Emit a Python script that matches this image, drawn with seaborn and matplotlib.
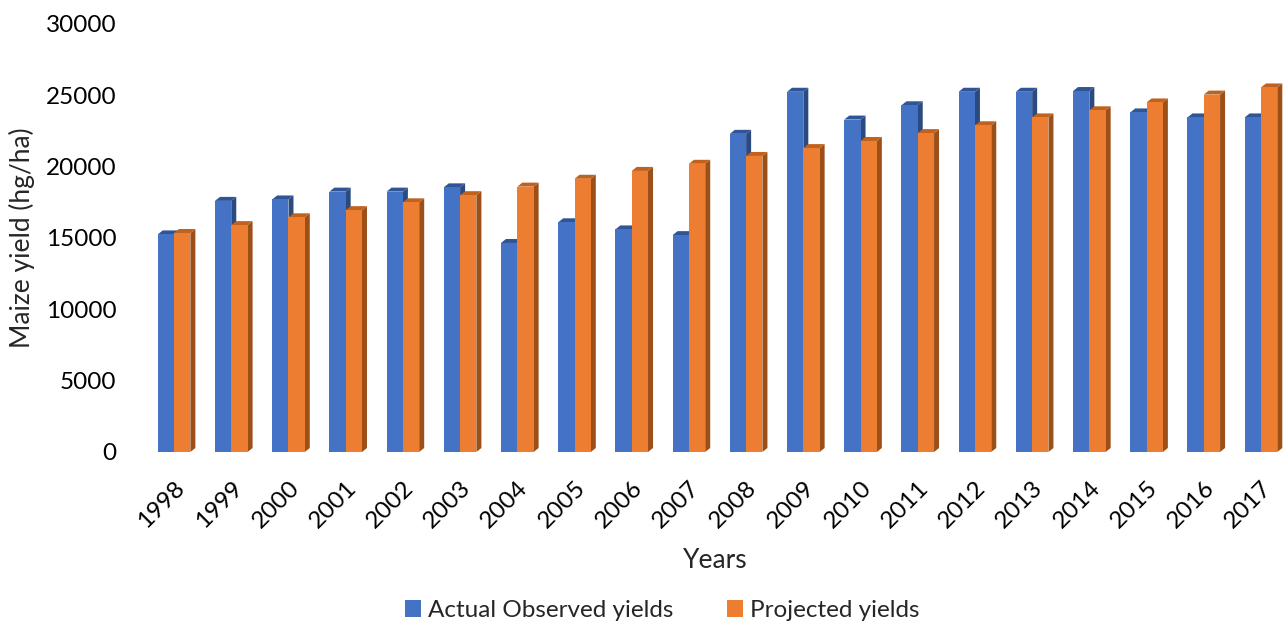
import numpy as np
import pandas as pd
import matplotlib
matplotlib.use("Agg")
import matplotlib.pyplot as plt
from matplotlib.patches import Polygon, Patch
import seaborn as sns

years = [str(y) for y in range(1998, 2018)]
actual = [15250, 17600, 17700, 18250, 18250, 18550, 14650, 16100, 15600, 15200,
          22300, 25250, 23300, 24300, 25250, 25250, 25300, 23800, 23450, 23450]
projected = [15350, 15900, 16450, 16950, 17500, 18000, 18600, 19150, 19700, 20200,
             20750, 21300, 21800, 22350, 22900, 23450, 23950, 24500, 25050, 25550]
series = ["Actual Observed yields", "Projected yields"]

front = {series[0]: "#4472C4", series[1]: "#ED7D31"}
side = {series[0]: "#2B4A80", series[1]: "#9C4F17"}
top = {series[0]: "#2F5597", series[1]: "#C0621D"}

df = pd.DataFrame({
    "Year": years * 2,
    "Yield": actual + projected,
    "Series": [series[0]] * len(years) + [series[1]] * len(years),
})

sns.set_theme(style="white")
plt.rcParams["font.family"] = ["Lato", "DejaVu Sans"]

fig = plt.figure(figsize=(12.85, 6.23), dpi=100)
ax = fig.add_axes([0.1132, 0.2745, 0.8868, 0.687])

sns.barplot(data=df, x="Year", y="Yield", hue="Series", order=years,
            hue_order=series, palette=front, width=0.57, ax=ax,
            legend=False, saturation=1, linewidth=0)

ax.set_xlim(-0.5, 19.42)
ax.set_ylim(0, 30000)

# extrude each bar into a pseudo-3D column (side and top faces)
fig.canvas.draw()
ppx = ax.transData.transform((1, 0))[0] - ax.transData.transform((0, 0))[0]
ppy = ax.transData.transform((0, 1000))[1] - ax.transData.transform((0, 0))[1]
dx = 5.0 / ppx
dy = 4.0 * 1000 / ppy

bars = list(ax.patches)
n = len(years)
for s_idx, name in enumerate(series):
    for p in bars[s_idx * n:(s_idx + 1) * n]:
        x0 = p.get_x()
        x1 = x0 + p.get_width()
        h = p.get_height()
        sp = Polygon([(x1, 0), (x1 + dx, dy), (x1 + dx, h + dy), (x1, h)],
                     closed=True, facecolor=side[name], edgecolor="none",
                     zorder=p.get_zorder() + s_idx * 0.1)
        tp = Polygon([(x0, h), (x0 + dx, h + dy), (x1 + dx, h + dy), (x1, h)],
                     closed=True, facecolor=top[name], edgecolor="none",
                     zorder=p.get_zorder() + s_idx * 0.1)
        ax.add_patch(sp)
        ax.add_patch(tp)
        p.set_zorder(p.get_zorder() + s_idx * 0.1 + 0.05)

for sp_ in ax.spines.values():
    sp_.set_visible(False)
ax.tick_params(axis="both", length=0, labelsize=17.5, colors="#000000")
ax.tick_params(axis="y", pad=21)
ax.set_yticks(np.arange(0, 30001, 5000))
plt.setp(ax.get_xticklabels(), rotation=45, ha="right", rotation_mode="anchor")
ax.tick_params(axis="x", pad=18)

ax.set_xlabel("Years", fontsize=19, labelpad=12)
ax.set_ylabel("Maize yield (hg/ha)", fontsize=19, labelpad=8)

handles = [Patch(facecolor=front[s], edgecolor="none", label=s) for s in series]
fig.legend(handles=handles, loc="center", bbox_to_anchor=(0.5156, 0.02),
           ncol=2, frameon=False, fontsize=17.5, handlelength=0.65,
           handleheight=0.65, handletextpad=0.3, columnspacing=2.2)

fig.savefig("out.png", dpi=100, facecolor="white")
